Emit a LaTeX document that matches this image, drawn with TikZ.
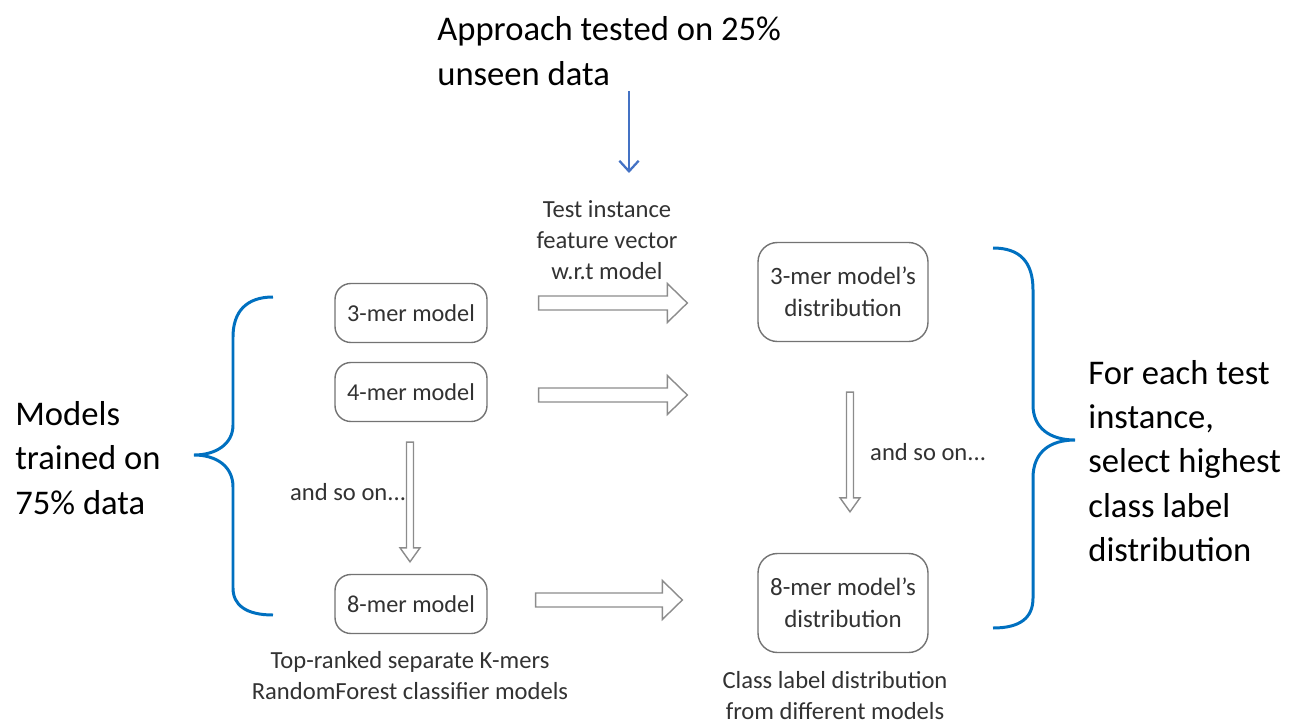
\documentclass[tikz,border=0pt]{standalone}
\usepackage{fontspec}
\setmainfont{Carlito}
\usetikzlibrary{calc,arrows.meta}

\definecolor{braceblue}{RGB}{0,112,192}
\definecolor{arrowblue}{RGB}{68,114,196}
\definecolor{textgray}{RGB}{50,50,50}

\tikzset{
  model/.style={draw=black!55, line width=0.8pt, rounded corners=9pt, fill=white,
    minimum width=3.04cm, minimum height=1.18cm, font=\fontsize{13.8}{17}\selectfont, text=textgray},
  dist/.style={model, minimum width=3.4cm, minimum height=1.98cm, rounded corners=11pt,
    align=center, font=\fontsize{14.2}{18}\selectfont},
  lbl/.style={font=\fontsize{14}{17.6}\selectfont, text=textgray, align=center},
  big/.style={font=\fontsize{19.7}{25.2}\selectfont, align=left, inner sep=0pt},
  hollowright/.style={draw=black!45, line width=0.8pt, fill=white,
    to path={let \p1=(\tikztostart), \p2=(\tikztotarget) in
      (\x1,\y1+0.14cm) -- (\x2-0.4cm,\y1+0.14cm) -- (\x2-0.4cm,\y1+0.39cm) -- (\x2,\y1)
      -- (\x2-0.4cm,\y1-0.39cm) -- (\x2-0.4cm,\y1-0.14cm) -- (\x1,\y1-0.14cm) -- cycle}},
  hollowdown/.style={draw=black!45, line width=0.8pt, fill=white,
    to path={let \p1=(\tikztostart), \p2=(\tikztotarget) in
      (\x1-0.07cm,\y1) -- (\x1-0.07cm,\y2+0.28cm) -- (\x1-0.2cm,\y2+0.28cm) -- (\x1,\y2)
      -- (\x1+0.2cm,\y2+0.28cm) -- (\x1+0.07cm,\y2+0.28cm) -- (\x1+0.07cm,\y1) -- cycle}},
  curly/.style={draw=braceblue, line width=1.7pt}
}

\begin{document}
\begin{tikzpicture}[x=0.02cm, y=-0.02cm]
  \useasboundingbox (0,0) rectangle (1297,726);

  %% models (left column)
  \node[model] (m3) at (411,313) {3-mer model};
  \node[model] (m4) at (411,392) {4-mer model};
  \node[model] (m8) at (411,604) {8-mer model};

  %% distributions (right column)
  \node[dist] (d3) at (843,292) {3-mer model’s\\distribution};
  \node[dist] (d8) at (843,603) {8-mer model’s\\distribution};

  %% hollow arrows
  \draw[hollowright] ([shift={(51,-10)}]m3.east) to ([shift={(-70,0)}]d3.west);
  \draw[hollowright] ([shift={(51,3)}]m4.east) to ([shift={(-70,0)}]d3.west);
  \draw[hollowright] ([shift={(48,-4)}]m8.east) to ([shift={(-75,0)}]d8.west);
  \draw[hollowdown] ([shift={(-1,20)}]m4.south) to ([shift={(-1,-12)}]m8.north);
  \draw[hollowdown] ([shift={(7,50)}]d3.south) to ([shift={(7,-41)}]d8.north);

  %% labels
  \node[lbl] (tiv) at (607,240) {Test instance\\feature vector\\w.r.t model};
  \node[lbl, anchor=west] (son1) at (284,492) {and so on...};
  \node[lbl, anchor=west] (son2) at (864,452) {and so on...};
  \node[lbl] (capm) at (410,676) {Top-ranked separate K-mers\\RandomForest classifier models};
  \node[lbl] (capd) at (835,696) {Class label distribution\\from different models};

  %% big texts
  \node[big, anchor=west] (appr) at (437,51) {Approach tested on 25\%\\unseen data};
  \node[big, anchor=west] (train) at (15,458) {Models\\trained on\\75\% data};
  \node[big, anchor=west] (sel) at (1088,461) {For each test\\instance,\\select highest\\class label\\distribution};

  %% blue arrow
  \coordinate (tip) at (629,173);
  \draw[arrowblue, line width=1.3pt, -{Straight Barb[length=6pt,width=11pt]}]
    ([yshift=-3pt]appr.south -| tip) -- (tip);

  %% braces
  \draw[curly] (273,297) .. controls (246,297) and (233,312) .. (233,337) -- (233,425)
    .. controls (233,444) and (216,455) .. (194,455)
    .. controls (216,455) and (233,466) .. (233,487) -- (233,588)
    .. controls (233,605) and (246,615) .. (273,615);
  \draw[curly] (993,248) .. controls (1020,248) and (1033,262) .. (1033,290) -- (1033,405)
    .. controls (1033,428) and (1050,440) .. (1075,440)
    .. controls (1050,440) and (1033,452) .. (1033,478) -- (1033,598)
    .. controls (1033,618) and (1020,628) .. (993,628);
\end{tikzpicture}
\end{document}
